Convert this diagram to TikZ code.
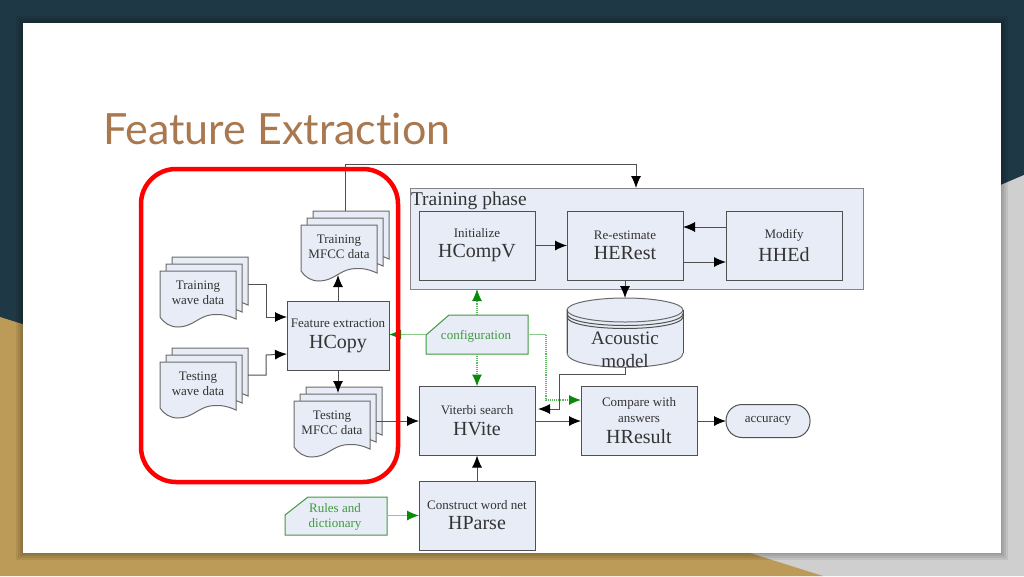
\documentclass[tikz,border=0pt]{standalone}
\usepackage{xcolor}
\usepackage{fontspec}
\usetikzlibrary{positioning, arrows.meta}
\setmainfont{Liberation Serif}
\newfontfamily\titlefont[Ligatures=NoCommon]{Lato}

\definecolor{slidedark}{HTML}{1F3845}
\definecolor{slidegold}{HTML}{BC9A57}
\definecolor{slidegrey}{HTML}{CFCFCF}
\definecolor{titlebrown}{HTML}{A9784F}
\definecolor{boxfill}{HTML}{E8ECF6}
\definecolor{boxline}{HTML}{505050}
\definecolor{inktext}{HTML}{333333}
\definecolor{tipgreen}{HTML}{0A8A0A}
\definecolor{linegreen}{HTML}{8CCF8C}
\definecolor{dotgreen}{HTML}{5FB85F}
\definecolor{textgreen}{HTML}{3F9A3F}

\tikzset{
	toolbox/.style={draw=boxline, fill=boxfill, line width=1pt, rectangle, align=center, text=inktext, outer sep=0pt, minimum width=116pt, minimum height=69pt, inner sep=0pt, font=\fontsize{13}{15}\selectfont},
	sheet/.style={draw=boxline!85, fill=boxfill, line width=1pt},
	configbox/.style={draw=textgreen, fill=boxfill, line width=1pt},
	ghost/.style={rectangle, inner sep=0pt, outer sep=0pt},
	flow/.style={draw=boxline, line width=1pt, -{Latex[length=12pt,width=10pt,black]}},
	greenflow/.style={draw=linegreen, line width=1pt, -{Latex[length=12pt,width=10pt,tipgreen]}},
	dotflow/.style={draw=dotgreen, line width=1.1pt, densely dotted, -{Latex[length=12pt,width=10pt,tipgreen]}},
	small/.style={font=\fontsize{13}{15}\selectfont},
}

% name, left, top of the front sheet, text
\newcommand{\docstack}[4]{
	\foreach \off in {12,6,0} {
		\draw[sheet, shift={(#2+\off,{#3-\off*7/6})}] (0,0) -- (76,0) -- (76,48)
			.. controls (65,43) and (58,43) .. (50,44)
			.. controls (38,46) and (32,56) .. (18,56)
			.. controls (10,56) and (4,52) .. (0,46) -- cycle;
	}
	\node[ghost, minimum width=88pt, minimum height=54pt] (#1) at (#2+44,#3+13) {};
	\node[ghost, minimum width=76pt, minimum height=50pt] (#1_txt) at (#2+38,#3+25) {};
	\node[small, align=center, text=inktext, inner sep=0pt] at (#2+38,#3+21.5) {#4};
}
\newcommand{\bigname}[1]{{\fontsize{20}{22}\selectfont #1}}

\begin{document}
\begin{tikzpicture}[x=1pt, y=-1pt]
	\useasboundingbox (0,0) rectangle (1024,576);

	% Slide background
	\fill[slidedark] (0,0) rectangle (1024,576);
	\fill[slidegrey] (1024,175) -- (1024,576) -- (500,576) -- (500,400) -- cycle;
	\fill[slidegold] (0,317) -- (823,576) -- (0,576) -- cycle;
	\foreach \d in {1,3,5,7} {
		\fill[black, opacity=0.07] (23-\d,23-\d) rectangle (1001+\d,553+\d);
	}
	\fill[white] (23,23) rectangle (1001,553);
	\node[font=\titlefont\fontsize{43}{50}\selectfont, text=titlebrown, anchor=west, inner sep=0pt] (title) at (103,129) {Feature Extraction};

	% Nodes
	\node (training) [toolbox, draw=boxline!70, minimum width=453pt, minimum height=101pt] at (636.5,238.5) {};
	\node (phase) [ghost, font=\fontsize{19.5}{22}\selectfont, text=inktext, anchor=west] at (411,200.5) {Training phase};
	\node (hcompv) [toolbox] at (477,245.5) {Initialize\\[5pt]\bigname{HCompV}};
	\node (herest) [toolbox] at (625,245.5) {Re-estimate\\[5pt]\bigname{HERest}};
	\node (hhed) [toolbox] at (784,245.5) {Modify\\[5pt]\bigname{HHEd}};
	\node (hcopy) [toolbox, minimum width=102pt] at (338,335.5) {\raisebox{-1.5pt}{Feature extraction}\\[6pt]\raisebox{-1.5pt}{\bigname{HCopy}}};
	\node (hvite) [toolbox] at (477,421) {\raisebox{1pt}{Viterbi search}\\[5pt]\bigname{HVite}};
	\node (hresult) [toolbox] at (639,421) {Compare with\\[1pt]answers\\[6pt]\bigname{HResult}};
	\node (hparse) [toolbox] at (477,515.5) {Construct word net\\[5pt]\bigname{HParse}};
	\node (accuracy) [toolbox, rounded corners=16pt, minimum width=84pt, minimum height=33pt] at (768,421) {\raisebox{-1.5pt}{accuracy}};

	\docstack{train_wave}{160}{271}{Training\\wave data}
	\docstack{test_wave}{160}{362}{Testing\\wave data}
	\docstack{train_mfcc}{301}{225}{Training\\MFCC data}
	\docstack{test_mfcc}{294}{401}{Testing\\MFCC data}

	% Acoustic model
	\draw[sheet] (567,310) -- (567,353) .. controls (567,372) and (683,372) .. (683,353) -- (683,310);
	\fill[boxfill] (567,310) rectangle (683,353);
	\draw[sheet] (625,310) ellipse [x radius=58, y radius=12];
	\draw[boxline, line width=1pt] (567,313.5) .. controls (567,329.5) and (683,329.5) .. (683,313.5);
	\draw[boxline, line width=1pt] (567,316.5) .. controls (567,332.5) and (683,332.5) .. (683,316.5);
	\draw[boxline, line width=1pt] (567,310) -- (567,353) (683,310) -- (683,353);
	\node (acoustic) [ghost, minimum width=116pt, minimum height=69pt] at (625,332.5) {};
	\node (acoustic_txt) [ghost, align=center, text=inktext, font=\fontsize{19}{23}\selectfont] at (625,350) {Acoustic\\model};

	% Green boxes
	\node (config) [ghost, minimum width=102pt, minimum height=39pt] at (477,334.5) {};
	\draw[configbox] (426,335) -- (449,315) -- (528,315) -- (528,354) -- (426,354) -- cycle;
	\node (config_txt) [ghost, small, text=textgreen] at (476,336) {configuration};
	\node (rules) [ghost, minimum width=102pt, minimum height=38pt] at (336,515.5) {};
	\draw[configbox] (285,515) -- (308,497) -- (387,497) -- (387,535) -- (285,535) -- cycle;
	\node (rules_txt) [ghost, small, align=center, text=textgreen] at (335,516.5) {Rules and\\dictionary};

	% Arrows
	\coordinate (mfcc_corner) at (636,164);
	\coordinate (model_bend) at (559,409);
	\coordinate (hvite_in) at (538,409);
	\coordinate (config_bend) at (546,400);
	\coordinate (hresult_in) at (581,400);

	\draw[flow] (train_mfcc.north) |- (mfcc_corner) -- (training.north -| mfcc_corner);
	\draw[flow] (train_wave.east) -| ++(18,33) -- (hcopy.west |- 0,317);
	\draw[flow] (test_wave.east) -| ++(18,-20) -- (hcopy.west |- 0,354);
	\draw[flow] (hcopy.north) -- (hcopy.north |- train_mfcc_txt.south);
	\draw[flow] (hcopy.south) -- ([yshift=-6pt]test_mfcc.north);
	\draw[flow] ([xshift=-6pt,yshift=-7pt]test_mfcc.east) -- (hvite.west);
	\draw[flow] (hcompv.east) -- (herest.west);
	\draw[flow] (hhed.west |- 0,227) -- (herest.east |- 0,227);
	\draw[flow] (herest.east |- 0,262) -- (hhed.west |- 0,262);
	\draw[flow] (herest.south) -- (acoustic.north);
	\draw[flow] (acoustic.south) -- ++(0,7) -| (model_bend) -- (hvite_in);
	\draw[flow] (hvite.east) -- (hresult.west);
	\draw[flow] (hresult.east) -- (accuracy.west);
	\draw[flow] (hparse.north) -- (hvite.south);

	\draw[greenflow] (config.west) -- (hcopy.east |- config.west);
	\draw[dotflow] (config.north) -- (training.south -| config);
	\draw[dotflow] (config.south) -- (hvite.north);
	\draw[draw=linegreen, line width=1pt] (config.east) -- (config_bend |- config.east);
	\draw[dotflow] (config_bend |- config.east) -- (config_bend) -- (hresult_in);
	\draw[greenflow] (rules.east) -- (hparse.west);

	% Highlight
	\node (highlight) [draw=red, line width=4.5pt, rectangle, rounded corners=35pt, minimum width=257pt, minimum height=313pt] at (269.5,325.5) {};
\end{tikzpicture}
\end{document}
